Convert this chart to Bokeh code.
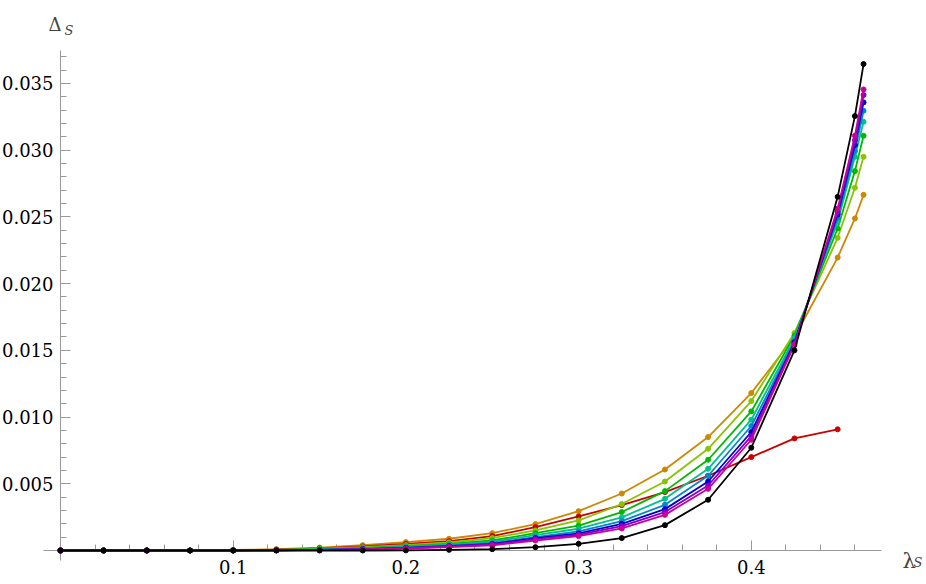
from bokeh.plotting import figure
from bokeh.models import Range1d, FixedTicker, Label
from bokeh.embed import file_html
from bokeh.resources import INLINE

# ---- data ----
lam = [0.0, 0.025, 0.05, 0.075, 0.1, 0.125, 0.15, 0.175, 0.2, 0.225, 0.25,
       0.275, 0.3, 0.325, 0.35, 0.375, 0.4, 0.425, 0.45, 0.46, 0.465]

orange = [0, 0, 0, 0, 0.00004, 0.0001, 0.00022, 0.0004, 0.00063, 0.00088, 0.0013,
          0.00198, 0.00295, 0.00427, 0.00607, 0.0085, 0.0118, 0.0160, 0.02195, 0.02488, 0.02665]
red = [0, 0, 0, 0, 0.00003, 0.00007, 0.00016, 0.0003, 0.0005, 0.0007, 0.00108,
       0.00175, 0.00255, 0.0034, 0.00438, 0.0056, 0.0070, 0.0084, 0.00908]
yellowgreen = [0, 0, 0, 0, 0.00002, 0.00005, 0.00013, 0.00025, 0.0004, 0.0006, 0.00093,
               0.0015, 0.00225, 0.00348, 0.00517, 0.00762, 0.0112, 0.0163, 0.02343, 0.02718, 0.0295]
green = [0, 0, 0, 0, 0.00001, 0.00004, 0.0001, 0.0002, 0.00033, 0.0005, 0.00075,
         0.0013, 0.00187, 0.00288, 0.00445, 0.0068, 0.01042, 0.0161, 0.02413, 0.02843, 0.03108]
teal = [0, 0, 0, 0, 0.00001, 0.00003, 0.00008, 0.00016, 0.00028, 0.00043, 0.00065,
        0.00115, 0.00163, 0.00248, 0.00387, 0.00612, 0.0098, 0.0159, 0.02463, 0.0295, 0.03213]
lightblue = [0, 0, 0, 0, 0.00001, 0.00002, 0.00006, 0.00013, 0.00023, 0.00038, 0.00055,
             0.001, 0.00143, 0.0022, 0.00342, 0.0056, 0.00933, 0.0157, 0.02493, 0.02993, 0.03295]
blue = [0, 0, 0, 0, 0.0, 0.00002, 0.00005, 0.00011, 0.0002, 0.00033, 0.0005,
        0.00093, 0.00128, 0.002, 0.0031, 0.00517, 0.00888, 0.0156, 0.02518, 0.03038, 0.03358]
purple = [0, 0, 0, 0, 0.0, 0.00001, 0.00004, 0.0001, 0.00018, 0.0003, 0.00045,
          0.00085, 0.00118, 0.00183, 0.00288, 0.00487, 0.00857, 0.0155, 0.02538, 0.03075, 0.03413]
magenta = [0, 0, 0, 0, 0.0, 0.00001, 0.00003, 0.00008, 0.00015, 0.00025, 0.00038,
           0.00075, 0.00108, 0.00165, 0.00267, 0.00462, 0.0083, 0.0154, 0.02562, 0.03108, 0.03455]
black = [0, 0, 0, 0, 0, 0, 0, 0, 0.00001, 0.00005, 0.0001,
         0.00025, 0.0005, 0.00093, 0.0019, 0.0038, 0.0077, 0.0150, 0.0265, 0.03255, 0.03645]

series = [orange, red, yellowgreen, green, teal, lightblue, blue, purple, magenta, black]
colors = ["#CC8800", "#CC0000", "#88C400", "#00B800", "#00C08C", "#0088CC",
          "#0000CC", "#8400CC", "#CC0099", "#000000"]

x_ticks = [0.1, 0.2, 0.3, 0.4]
x_tick_labels = ["0.1", "0.2", "0.3", "0.4"]
y_ticks = [0.005, 0.010, 0.015, 0.020, 0.025, 0.030, 0.035]
y_tick_labels = ["0.005", "0.010", "0.015", "0.020", "0.025", "0.030", "0.035"]
x_minor = [round(0.02 * i, 2) for i in range(1, 24)]
y_minor = [round(0.001 * i, 3) for i in range(1, 38)]

FONT = "DejaVu Serif"

p = figure(width=926, height=584, output_backend="svg", toolbar_location=None,
           x_range=Range1d(-0.034742, 0.50145), y_range=Range1d(-0.002548, 0.041214),
           min_border=0, min_border_left=0, min_border_right=0,
           min_border_top=0, min_border_bottom=0)
p.grid.visible = False
p.outline_line_color = None
p.background_fill_color = "white"
p.border_fill_color = "white"

for ax, ticks, labels, minor, bounds in (
        (p.xaxis[0], x_ticks, x_tick_labels, x_minor, (-0.01, 0.4754)),
        (p.yaxis[0], y_ticks, y_tick_labels, y_minor, (-0.00075, 0.0375))):
    ax.fixed_location = 0
    ax.level = "underlay"
    ax.ticker = FixedTicker(ticks=ticks, minor_ticks=minor)
    ax.major_label_overrides = {t: l for t, l in zip(ticks, labels)}
    ax.bounds = bounds
    ax.axis_line_color = "#999999"
    ax.major_tick_line_color = "#999999"
    ax.minor_tick_line_color = "#999999"
    ax.major_tick_in = 10
    ax.major_tick_out = 0
    ax.minor_tick_in = 6
    ax.minor_tick_out = 0
    ax.major_label_text_font = FONT
    ax.major_label_text_font_size = "18px"
    ax.major_label_text_color = "black"
p.xaxis[0].major_label_standoff = 10
p.yaxis[0].major_label_standoff = 7

for vals, c in zip(series, colors):
    xs = lam[:len(vals)]
    p.line(xs, vals, line_color=c, line_width=1.8)
    p.scatter(xs, vals, size=5, fill_color=c, line_color=c)

# axis labels
p.add_layout(Label(x=-0.00695, y=0.03938, text="Δ", text_font=FONT,
                   text_font_size="18px", text_baseline="alphabetic", text_align="left"))
p.add_layout(Label(x=0.0023, y=0.0390, text="S", text_font=FONT, text_font_style="italic",
                   text_font_size="13px", text_baseline="alphabetic", text_align="left"))
p.add_layout(Label(x=0.4875, y=-0.00075, text="λ", text_font=FONT,
                   text_font_size="21px", text_baseline="alphabetic", text_align="left"))
p.add_layout(Label(x=0.4939, y=-0.0009, text="S", text_font=FONT, text_font_style="italic",
                   text_font_size="13px", text_baseline="alphabetic", text_align="left"))

open("out.html", "w").write(file_html(p, INLINE))
